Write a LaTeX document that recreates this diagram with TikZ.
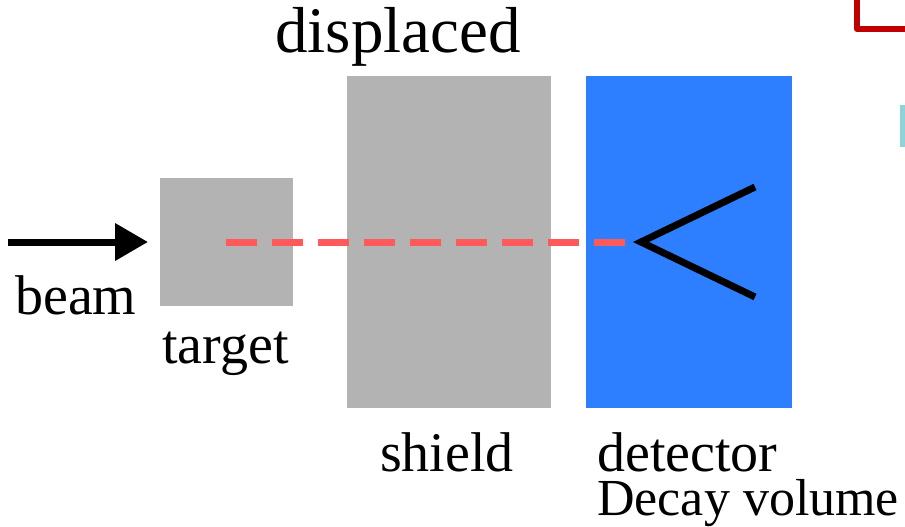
\documentclass[tikz,border=0pt]{standalone}
\usepackage{xcolor}
\usepackage{fontspec}
\setmainfont{Liberation Serif}
\usetikzlibrary{arrows.meta, positioning, calc}

\begin{document}
\begin{tikzpicture}[x=1pt, y=-1pt, font=\fontsize{56}{60}\selectfont]

\definecolor{blockgray}{HTML}{b3b3b3}
\definecolor{detblue}{HTML}{2e7fff}
\definecolor{pathred}{HTML}{ff5a5a}
\definecolor{framered}{HTML}{c00000}
\definecolor{tabcyan}{HTML}{8fd3da}

\tikzset{
  block/.style={fill=blockgray, draw=none, inner sep=0pt, anchor=north west},
  detbox/.style={fill=detblue, draw=none, inner sep=0pt, anchor=north west},
  lbl/.style={anchor=base west, inner sep=0pt},
  beamarrow/.style={-{Triangle[length=33pt, width=36pt]}, line width=7pt, black, shorten >=12pt},
  decaypath/.style={pathred, line width=7pt, dash pattern=on 31pt off 15pt},
  track/.style={line width=7pt, black}
}

\useasboundingbox (0,0) rectangle (905,527);

%slide bits at the edge
\draw[framered, line width=6pt, line join=round] (857,0) -- (857,29) -- (905,29);
\fill[tabcyan] (900,105) rectangle (905,147);

%setup
\node[block, minimum width=133pt, minimum height=128pt] (target) at (160,178) {};
\node[block, minimum width=204pt, minimum height=332pt] (shield) at (347,76) {};
\node[detbox, minimum width=206pt, minimum height=332pt] (det) at (586,76) {};

\coordinate (bstart) at (8,242);
\coordinate (dstart) at (226,242);
\coordinate (vtx) at (641,242);
\coordinate (trk1) at (755,187);
\coordinate (trk2) at (755,297);

\draw[beamarrow] (bstart) -- (target.west |- bstart);
\draw[decaypath] (dstart) -- (vtx);
\draw[track] (trk1) -- (vtx) -- (trk2);

%labels
\node[lbl, font=\fontsize{65}{70}\selectfont] (displ) at (275,53) {displaced};
\node[lbl] (beamlbl) at (15,314) {beam};
\node[lbl] (targetlbl) at (162,363) {target};
\node[lbl] (shieldlbl) at (380,471) {shield};
\node[lbl] (detlbl) at (597,471) {detector};
\node[lbl, font=\fontsize{52}{56}\selectfont] (decaylbl) at (597,515) {Decay volume};
\end{tikzpicture}
\end{document}
